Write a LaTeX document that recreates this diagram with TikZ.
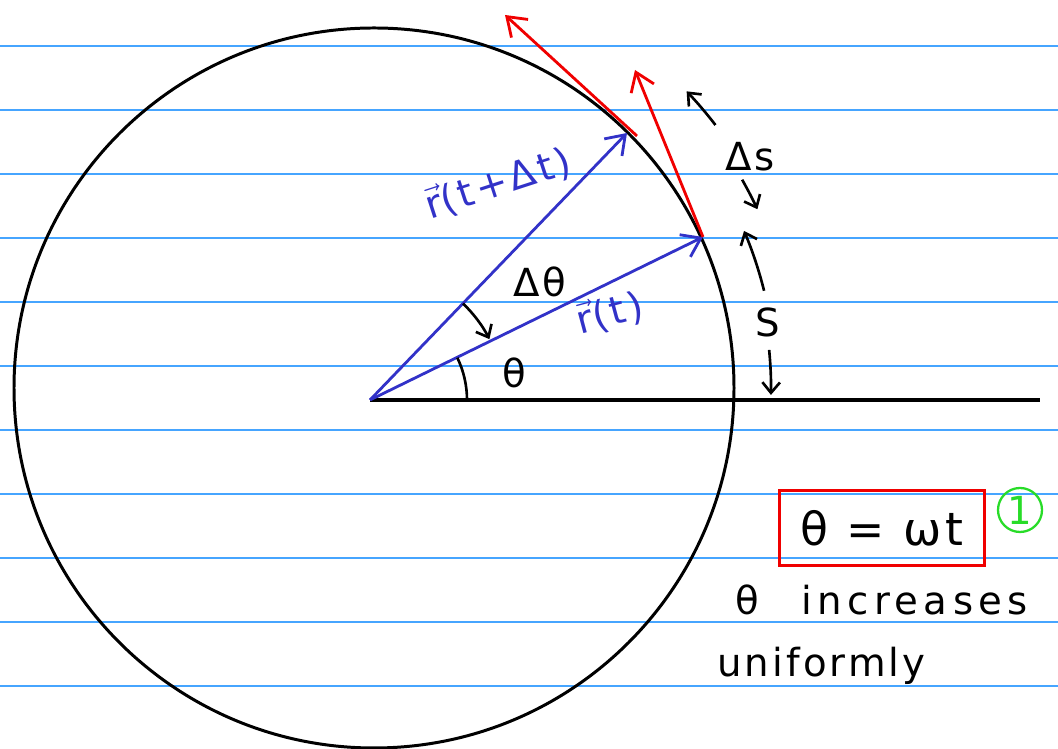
\documentclass[tikz,border=0pt]{standalone}
\usepackage{fontspec}
\setmainfont{DejaVu Sans}
\newfontfamily\hand[LetterSpace=8]{DejaVu Sans}
\newfontfamily\handwide[LetterSpace=14]{DejaVu Sans}
\usetikzlibrary{calc,arrows.meta}

\definecolor{ruleblue}{RGB}{70,165,255}
\definecolor{vecblue}{RGB}{50,50,200}
\definecolor{penred}{RGB}{240,0,0}
\definecolor{pengreen}{RGB}{40,220,40}

\begin{document}
\begin{tikzpicture}[x=0.02cm, y=0.02cm,
  barb/.style={-{Straight Barb[length=10pt,width=14pt]}},
  smallbarb/.style={-{Straight Barb[length=6pt,width=10pt]}},
  hw/.style={font=\hand\fontsize{22}{26}\selectfont},
  hwbig/.style={font=\hand\fontsize{26}{30}\selectfont}]
\useasboundingbox (0,0) rectangle (1058,749);
\def\R{360}

% ruled paper
\foreach \k in {0,...,10}
  \draw[ruleblue, line width=0.9pt] (0,703-64*\k) -- (1058,703-64*\k);

\coordinate (C) at (374,361);
\coordinate (O) at (370,349);
\coordinate (A) at (703,512);
\coordinate (B) at (627,616);
\coordinate (B1) at (637,613);
\coordinate (vA) at (635,679);
\coordinate (vB) at (505,734);

% circle and axis
\draw[line width=1.7pt] (C) circle[radius=\R];
\draw[line width=2.2pt] (O) -- (1040,349);

% position vectors
\draw[vecblue, line width=1.6pt, barb] (O) -- (A);
\draw[vecblue, line width=1.6pt, barb] (O) -- (B);

% velocities along the tangent
\draw[penred, line width=1.6pt, barb] (A) -- (vA);
\draw[penred, line width=1.6pt, barb] (B1) -- (vB);

% angles
\draw[line width=1.5pt] ($(O)+(0:97)$) arc[start angle=0, end angle=25.8, radius=97];
\draw[line width=1.5pt, smallbarb] ($(O)+(46:134)$) arc[start angle=46, end angle=27, radius=134];

% arc length marks
\draw[line width=1.5pt, smallbarb] ($(C)+(37.6:431)$) arc[start angle=37.6, end angle=43.5, radius=431];
\draw[line width=1.5pt, smallbarb] ($(C)+(29.5:423)$) arc[start angle=29.5, end angle=25, radius=423];
\draw[line width=1.5pt, smallbarb] ($(C)+(14:402)$) arc[start angle=14, end angle=23, radius=402];
\draw[line width=1.5pt, smallbarb] ($(C)+(5.5:397)$) arc[start angle=5.5, end angle=-1, radius=397];

% labels
\node[hw, vecblue, rotate=18] (rB) at (498,566) {$\vec{\mbox{r}}$(t+Δt)};
\node[hw, vecblue, rotate=15] (rA) at (610,436) {$\vec{\mbox{r}}$(t)};
\node[hw] (th) at (514,376) {θ};
\node[hw] (dth) at (540,467) {Δθ};
\node[hw] (ds) at (750,592) {Δs};
\node[hw] (s) at (768,427) {S};

% result
\node[hwbig, draw=penred, line width=1.5pt, minimum width=4.1cm, minimum height=1.5cm] (law) at (882,221) {θ = ωt};
\node[hw, draw=pengreen, text=pengreen, circle, line width=1.3pt, minimum size=0.88cm, inner sep=0pt] (eqno) at (1020,239) {1};
\node[hw, anchor=base west, inner sep=0pt] (incr) at (735,134) {θ\hspace{1.1em}{\handwide increases}};
\node[hw, anchor=base west, inner sep=0pt] (unif) at (717,72) {uniformly};
\end{tikzpicture}
\end{document}
